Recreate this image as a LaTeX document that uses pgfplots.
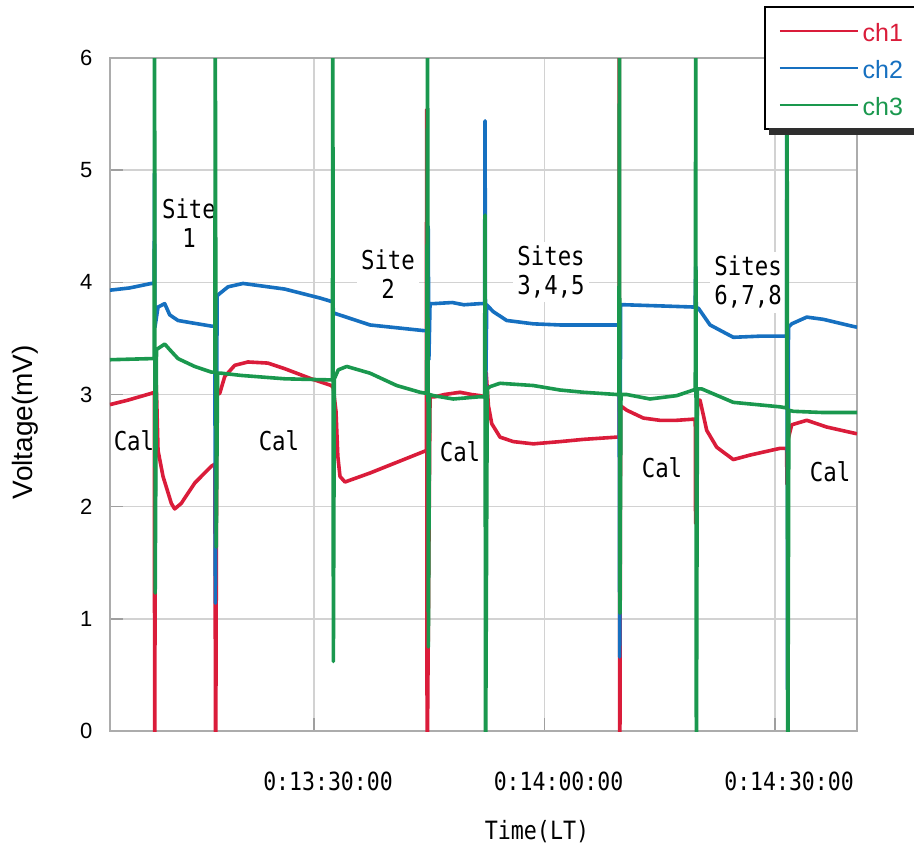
\documentclass[border=0pt]{standalone}
\usepackage{fontspec}
\setmainfont{Liberation Sans}
\newfontfamily\gothic[FakeStretch=0.86]{DejaVu Sans Mono}
\usepackage{pgfplots}
\pgfplotsset{compat=1.18}
\definecolor{c1}{RGB}{218,28,58}
\definecolor{c2}{RGB}{22,112,192}
\definecolor{c3}{RGB}{26,152,78}
\begin{document}
\begin{tikzpicture}
\path[use as bounding box] (0,0) rectangle (457pt,423pt);
\begin{axis}[
  at={(55pt,57.5pt)}, anchor=south west,
  scale only axis, width=373.5pt, height=336.5pt,
  xmin=3.45, xmax=100.67, ymin=0, ymax=6,
  xtick={30,60,90},
  xticklabels={0:13:30:00,0:14:00:00,0:14:30:00},
  ytick={0,1,2,3,4,5,6},
  /pgf/number format/assume math mode=true,
  tick pos=left, tick align=inside,
  major tick length=6.5pt,
  tick style={draw=gray!75, line width=0.8pt},
  axis line style={draw=gray!65, line width=1pt},
  grid=major,
  major grid style={draw=gray!35, line width=0.7pt},
  yticklabel style={font=\fontsize{11}{13}\selectfont, xshift=-5.3pt},
  xticklabel style={font=\gothic\fontsize{12.5}{14}\selectfont, anchor=north, yshift=-16.8pt, xshift=7pt},
  xlabel={Time(LT)},
  xlabel style={font=\gothic\fontsize{12.6}{14}\selectfont, at={(axis description cs:0.5716,-0.150)}, anchor=center},
  ylabel={Voltage(mV)},
  ylabel style={font=\fontsize{14}{16}\selectfont, at={(axis description cs:-0.1138,0.459)}, anchor=center},
  legend cell align=left,
  legend image code/.code={\draw[#1, line width=0.9pt] (0pt,0pt) -- (39pt,0pt);},
  legend style={at={(axis description cs:0.8755,1.0773)}, anchor=north west,
    draw=black, line width=0.9pt, fill=white,
    font=\fontsize{12.5}{14}\selectfont,
    inner xsep=7pt, inner ysep=3.75pt, row sep=2pt, column sep=0pt,
    nodes={inner sep=2pt, text height=11.5pt, text depth=1pt}},
  every axis plot/.append style={line width=1.8pt, line join=round},
]
% annotations (drawn first so data lies on top)
\node[font=\gothic\fontsize{13}{14.5}\selectfont, align=center, inner sep=1pt] at (axis cs:13.73,4.53) {Site\\1};
\node[font=\gothic\fontsize{13}{14.5}\selectfont, align=center, fill=white, inner sep=2pt] at (axis cs:39.63,4.07) {Site\\2};
\node[font=\gothic\fontsize{13}{14.5}\selectfont, align=center, fill=white, inner sep=2pt] at (axis cs:60.85,4.09) {Sites\\3,4,5};
\node[font=\gothic\fontsize{13}{14.5}\selectfont, align=center, fill=white, inner sep=2pt] at (axis cs:86.49,4.00) {Sites\\6,7,8};
\node[font=\gothic\fontsize{13}{14.5}\selectfont] at (axis cs:6.57,2.59) {Cal};
\node[font=\gothic\fontsize{13}{14.5}\selectfont] at (axis cs:25.44,2.59) {Cal};
\node[font=\gothic\fontsize{13}{14.5}\selectfont] at (axis cs:49.0,2.49) {Cal};
\node[font=\gothic\fontsize{13}{14.5}\selectfont] at (axis cs:75.29,2.35) {Cal};
\node[font=\gothic\fontsize{13}{14.5}\selectfont] at (axis cs:97.16,2.31) {Cal};
% ch1
\addplot[c1] coordinates {
(3.45,2.91) (5.79,2.95) (8.82,3.01) (9.22,3.02) (9.27,-0.5) (9.36,3.30) (9.55,2.90) (9.70,2.50) (10.35,2.27) (11.43,2.03) (11.87,1.98) (12.73,2.03) (14.47,2.21) (16.63,2.36) (17.10,2.38) (17.20,-0.5) (17.35,3.00) (17.73,3.01) (18.38,3.16) (19.68,3.26) (21.41,3.29) (24.01,3.28) (26.19,3.23) (29.65,3.14) (32.25,3.08) (32.50,3.06) (32.86,2.85) (33.10,2.45) (33.38,2.27) (34.03,2.22) (37.29,2.30) (44.23,2.49) (44.62,2.50) (44.66,5.54) (44.72,-0.5) (45.10,2.98) (45.75,2.98) (47.00,3.00) (49.00,3.02) (50.50,3.00) (51.60,2.99) (52.20,2.98) (52.40,3.20) (52.70,2.90) (53.13,2.74) (54.21,2.62) (55.94,2.58) (58.54,2.56) (62.02,2.58) (65.05,2.60) (69.40,2.62) (69.70,2.62) (69.72,6.5) (69.80,-0.5) (69.90,2.90) (70.70,2.86) (72.86,2.79) (75.00,2.77) (77.21,2.77) (79.37,2.78) (79.62,2.78) (79.66,1.85) (79.90,2.95) (80.24,2.95) (81.11,2.68) (82.41,2.53) (84.57,2.42) (86.75,2.46) (90.65,2.52) (91.50,2.52) (91.56,2.20) (91.70,2.60) (92.17,2.73) (94.13,2.77) (96.73,2.71) (99.98,2.66) (100.67,2.65)
};
\addlegendentry{\textcolor{c1}{ch1}}
% ch2
\addplot[c2] coordinates {
(3.45,3.93) (6.00,3.95) (8.82,3.99) (9.20,3.99) (9.24,4.97) (9.30,3.60) (9.70,3.78) (10.57,3.81) (11.22,3.71) (12.30,3.66) (13.99,3.64) (16.63,3.61) (17.10,3.61) (17.16,1.14) (17.40,3.88) (17.73,3.90) (18.81,3.96) (20.76,3.99) (26.19,3.94) (30.78,3.86) (32.25,3.83) (32.45,3.82) (32.55,3.72) (32.86,3.72) (37.29,3.62) (44.23,3.57) (44.75,3.57) (44.86,4.50) (44.95,3.31) (45.10,3.81) (45.53,3.81) (48.00,3.82) (49.50,3.80) (51.60,3.81) (52.20,3.81) (52.26,5.44) (52.34,3.00) (52.48,3.80) (53.30,3.74) (55.08,3.66) (58.54,3.63) (62.02,3.62) (65.05,3.62) (69.40,3.62) (69.70,3.62) (69.78,0.66) (69.90,3.80) (70.48,3.80) (75.00,3.79) (79.37,3.78) (79.60,3.78) (79.68,4.14) (79.75,3.77) (80.02,3.77) (81.54,3.62) (84.57,3.51) (88.00,3.52) (90.65,3.52) (91.50,3.52) (91.55,6.5) (91.62,0.37) (91.75,3.60) (92.17,3.63) (94.13,3.69) (96.29,3.67) (99.98,3.61) (100.67,3.60)
};
\addlegendentry{\textcolor{c2}{ch2}}
% ch3
\addplot[c3] coordinates {
(3.45,3.31) (8.82,3.32) (9.20,3.32) (9.25,6.5) (9.33,1.23) (9.50,3.40) (9.70,3.41) (10.57,3.45) (11.22,3.40) (12.30,3.32) (14.47,3.25) (16.63,3.20) (17.10,3.20) (17.15,6.5) (17.28,1.64) (17.45,3.19) (17.93,3.19) (20.54,3.17) (26.19,3.14) (32.25,3.13) (32.40,3.14) (32.45,6.5) (32.52,0.62) (32.65,3.14) (33.16,3.22) (34.26,3.25) (37.29,3.19) (40.76,3.08) (43.80,3.02) (44.67,3.01) (44.78,6.5) (44.88,0.75) (45.05,3.00) (45.53,2.99) (48.13,2.96) (51.60,2.98) (52.20,2.98) (52.26,4.60) (52.32,-0.5) (52.55,3.05) (52.91,3.07) (54.21,3.10) (58.54,3.08) (62.02,3.04) (65.05,3.02) (69.40,3.00) (69.68,3.00) (69.75,6.5) (69.82,1.05) (69.95,3.00) (70.70,3.00) (73.73,2.96) (77.21,2.99) (79.37,3.04) (79.62,3.04) (79.68,6.5) (79.76,-0.5) (79.90,3.05) (80.46,3.05) (84.57,2.93) (90.65,2.89) (91.50,2.88) (91.56,6.5) (91.66,-0.5) (91.80,2.86) (92.38,2.85) (96.00,2.84) (99.98,2.84) (100.67,2.84)
};
\addlegendentry{\textcolor{c3}{ch3}}
\end{axis}
% legend drop shadow (bottom strip; right side lies outside the page)
\fill[black!82] (384.5pt,355.3pt) rectangle (470pt,359pt);
\end{tikzpicture}
\end{document}
